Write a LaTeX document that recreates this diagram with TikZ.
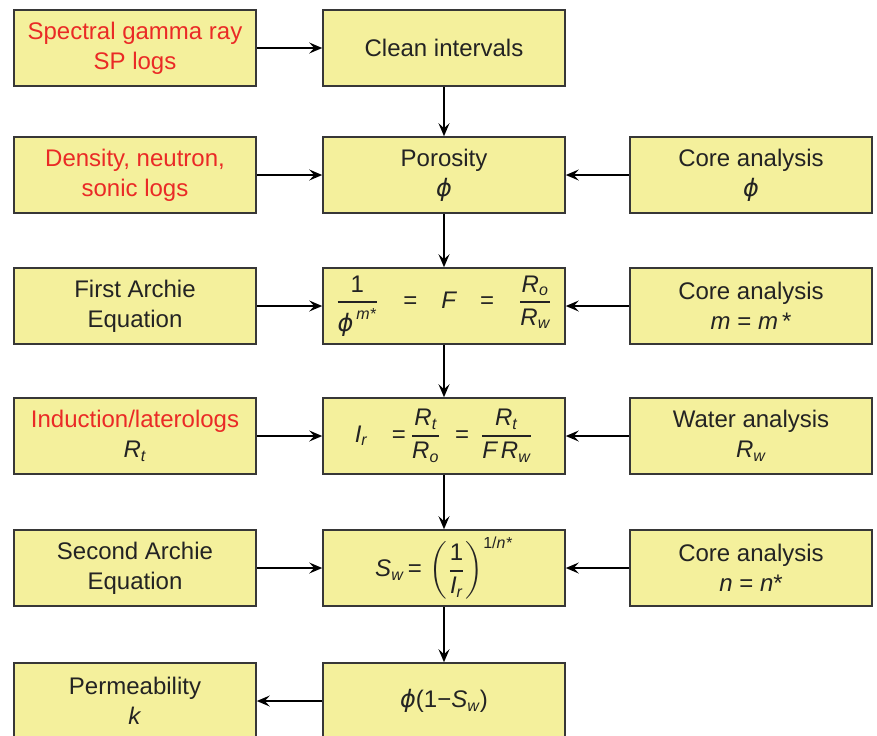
\documentclass[tikz,border=0pt]{standalone}
\usepackage{amsmath}
\usepackage{fontspec}
\setmainfont{Liberation Sans}
\newfontfamily\phifont{DejaVu Sans}
\usetikzlibrary{arrows.meta}
\definecolor{boxfill}{RGB}{244,240,156}
\definecolor{boxline}{RGB}{55,55,55}
\definecolor{logred}{RGB}{234,42,38}
\definecolor{inktext}{RGB}{35,35,35}
\newcommand{\vi}[1]{\text{\itshape #1}}
\newcommand{\vphi}{\text{\phifont\itshape ϕ}}
\newcommand{\fracbar}[2]{\genfrac{}{}{0.9pt}{0}{#1}{#2}}
\tikzset{
    flowbox/.style={draw=boxline, line width=0.8pt, fill=boxfill, minimum width=121pt, minimum height=38pt,
        inner sep=0pt, align=center, text=inktext, font=\fontsize{12}{15}\selectfont},
    % Boxes fed by well logs carry red text
    logbox/.style={flowbox, text=logred},
    flowarrow/.style={-{Stealth[length=6.5pt,width=5.5pt,inset=2.5pt]}, line width=0.8pt, black},
}
\begin{document}
\begin{tikzpicture}[x=0.5pt, y=-0.5pt]
        \useasboundingbox (0,0) rectangle (877,735);
        % Row 1: Clean intervals
        \node[logbox]  (gamma)   at (135,48)  {Spectral gamma ray\\SP logs};
        \node[flowbox] (clean)   at (444,48)  {Clean intervals};

        % Row 2: Porosity
        \node[logbox]  (dens)    at (135,175) {Density, neutron,\\sonic logs};
        \node[flowbox] (poro)    at (444,175) {Porosity\\$\vphi$};
        \node[flowbox] (corephi) at (751,175) {Core analysis\\$\vphi$};

        % Row 3: First Archie equation
        \node[flowbox] (archie1) at (135,306) {First Archie\\Equation};
        \node[flowbox] (formf)   at (444,306) {$\fracbar{\text{1}}{\vphi^{\,\vi{m*}}}\quad\text{=}\quad\vi{F}\quad\text{=}\quad\fracbar{\vi{R}_{\vi{o}}}{\vi{R}_{\vi{w}}}$};
        \node[flowbox] (corem)   at (751,306) {Core analysis\\\textit{m} = \textit{m}\,*};

        % Row 4: Resistivity index
        \node[logbox]  (induct)  at (135,436) {Induction/laterologs\\\textcolor{inktext}{$\vi{R}_{\vi{t}}$}};
        \node[flowbox] (resid)   at (444,436) {$\vi{I}_{\vi{r}}\quad\text{=}\,\fracbar{\vi{R}_{\vi{t}}}{\vi{R}_{\vi{o}}}\;\;\text{=}\,\;\fracbar{\vi{R}_{\vi{t}}}{\vi{F}\,\vi{R}_{\vi{w}}}$};
        \node[flowbox] (water)   at (751,436) {Water analysis\\$\vi{R}_{\vi{w}}$};

        % Row 5: Second Archie equation
        \node[flowbox] (archie2) at (135,568) {Second Archie\\Equation};
        \node[flowbox] (satur)   at (444,568) {$\vi{S}_{\vi{w}}\,\text{=}\,\left(\fracbar{\text{1}}{\vi{I}_{\vi{r}}}\right)^{\text{1/\itshape n*}}$};
        \node[flowbox] (coren)   at (751,568) {Core analysis\\\textit{n} = \textit{n}*};

        % Row 6: Permeability
        \node[flowbox] (perm)    at (135,701) {Permeability\\\textit{k}};
        \node[flowbox] (hcpv)    at (444,701) {$\vphi\text{(1−}\vi{S}_{\vi{w}}\text{)}$};

        % Connectors
        \draw[flowarrow] (gamma) -- (clean);
        \draw[flowarrow] (clean) -- (poro);
        \draw[flowarrow] (dens) -- (poro);
        \draw[flowarrow] (corephi) -- (poro);
        \draw[flowarrow] (poro) -- (formf);
        \draw[flowarrow] (archie1) -- (formf);
        \draw[flowarrow] (corem) -- (formf);
        \draw[flowarrow] (formf) -- (resid);
        \draw[flowarrow] (induct) -- (resid);
        \draw[flowarrow] (water) -- (resid);
        \draw[flowarrow] (resid) -- (satur);
        \draw[flowarrow] (archie2) -- (satur);
        \draw[flowarrow] (coren) -- (satur);
        \draw[flowarrow] (satur) -- (hcpv);
        \draw[flowarrow] (hcpv) -- (perm);
\end{tikzpicture}
\end{document}
